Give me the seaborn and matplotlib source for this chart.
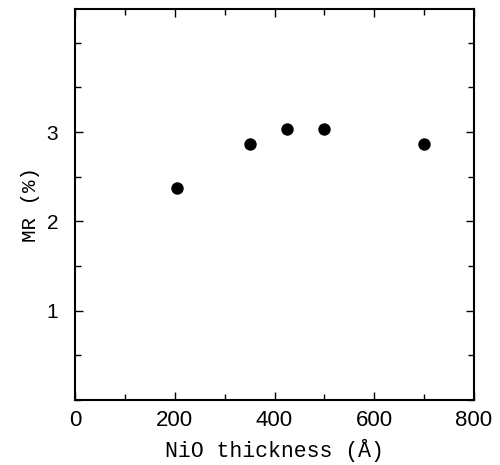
import matplotlib
matplotlib.use("Agg")
import matplotlib.pyplot as plt
import seaborn as sns
import pandas as pd
from matplotlib.ticker import MultipleLocator

# Data
thickness = [205, 350, 425, 500, 700]
mr = [2.37, 2.87, 3.03, 3.03, 2.87]
x_ticks = [0, 200, 400, 600, 800]
y_ticks = [1, 2, 3]

df = pd.DataFrame({"thickness": thickness, "mr": mr})

sns.set_theme(style="ticks")
plt.rcParams["font.family"] = ["Liberation Sans", "DejaVu Sans"]
plt.rcParams["text.color"] = "black"
plt.rcParams["xtick.color"] = "black"
plt.rcParams["ytick.color"] = "black"
plt.rcParams["axes.labelcolor"] = "black"

fig = plt.figure(figsize=(5.0, 4.65), dpi=100)
ax = fig.add_axes([0.15, 0.14, 0.798, 0.841])

sns.scatterplot(data=df, x="thickness", y="mr", ax=ax, color="black",
                s=80, edgecolor="black", linewidth=0, legend=False)

ax.set_xlim(0, 800)
ax.set_ylim(0, 4.38)
ax.set_xticks(x_ticks)
ax.set_xticklabels([str(v) for v in x_ticks])
ax.set_yticks(y_ticks)
ax.set_yticklabels([str(v) for v in y_ticks])
ax.xaxis.set_minor_locator(MultipleLocator(100))
ax.yaxis.set_minor_locator(MultipleLocator(0.5))

ax.tick_params(axis="both", which="both", direction="in", top=True, right=True,
               color="black", width=1.0, labelcolor="black")
ax.tick_params(axis="both", which="major", length=6)
ax.tick_params(axis="both", which="minor", length=4)
ax.tick_params(axis="x", which="major", labelsize=16, pad=7)
ax.tick_params(axis="y", which="major", labelsize=15, pad=12)
for lab in ax.get_xticklabels() + ax.get_yticklabels():
    lab.set_fontweight("medium")

for sp in ax.spines.values():
    sp.set_visible(True)
    sp.set_color("black")
    sp.set_linewidth(1.5)

ax.set_xlabel("NiO thickness (Å)", family=["Liberation Mono", "DejaVu Sans Mono"],
              fontsize=15.5, labelpad=6, color="black")
ax.set_ylabel("MR (%)", family=["Liberation Mono", "DejaVu Sans Mono"],
              fontsize=15, labelpad=5, color="black")

fig.savefig("out.png", dpi=100, facecolor="white")
